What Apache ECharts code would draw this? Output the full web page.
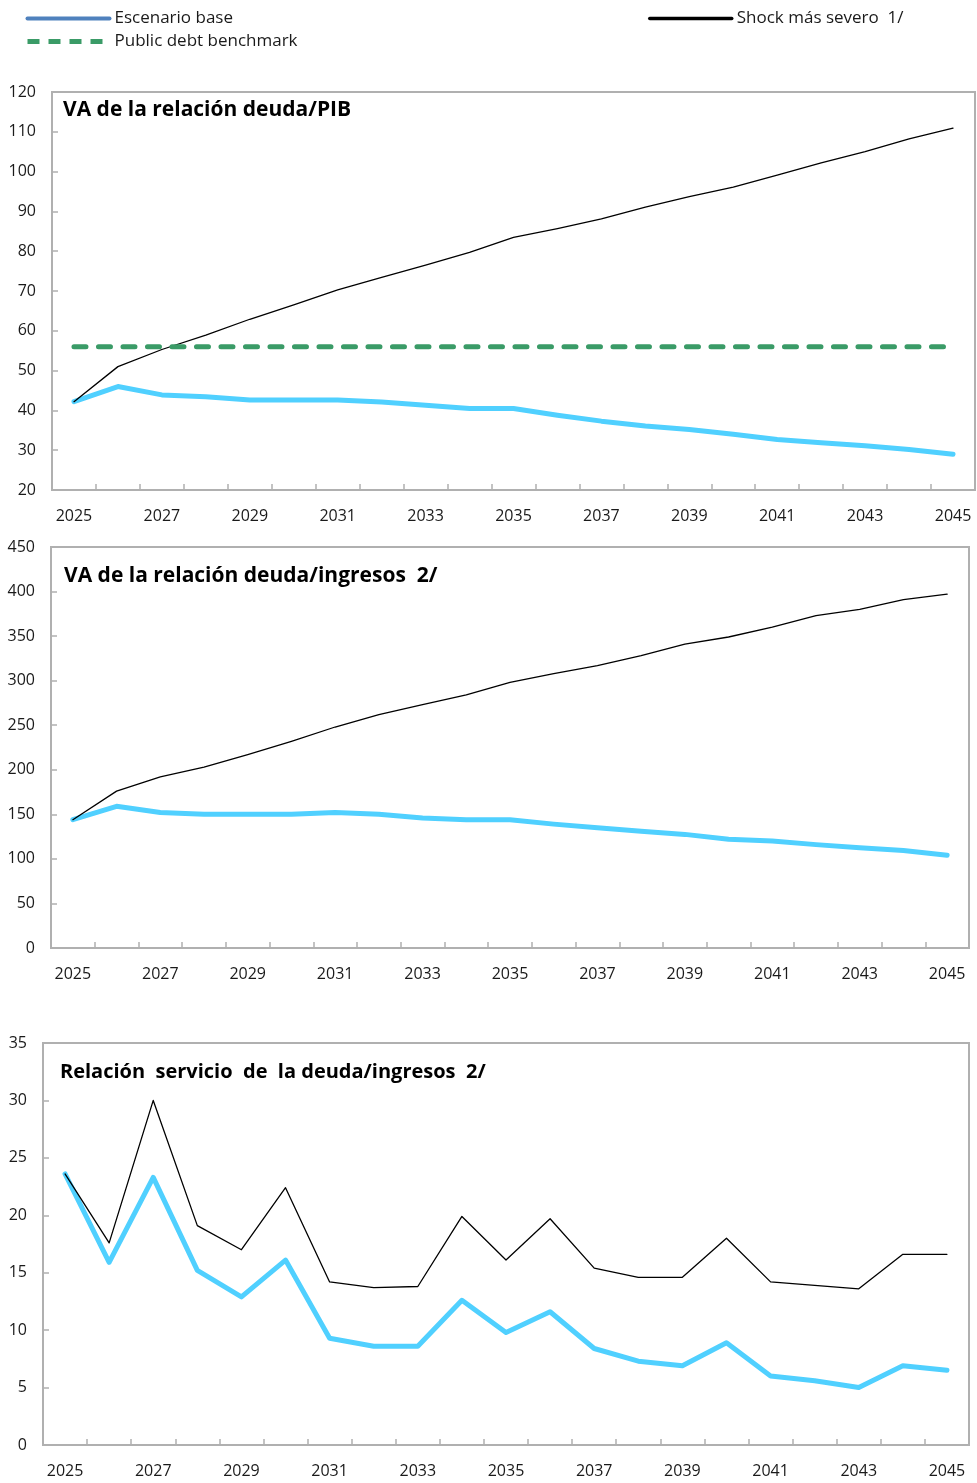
<!DOCTYPE html>
<html>
<head>
<meta charset="utf-8">
<script src="https://cdn.jsdelivr.net/npm/echarts@6/dist/echarts.min.js"></script>
<style>
  html, body { margin: 0; padding: 0; background: #fff; }
  #main { width: 977px; height: 1483px; }
</style>
</head>
<body>
<div id="main"></div>
<script>
// 年份
const years = ['2025', '2026', '2027', '2028', '2029', '2030', '2031', '2032', '2033', '2034', '2035',
  '2036', '2037', '2038', '2039', '2040', '2041', '2042', '2043', '2044', '2045']

// VA de la relación deuda/PIB
const debtGdpBase = [42.2, 46.0, 43.9, 43.4, 42.6, 42.6, 42.6, 42.1, 41.3, 40.5, 40.5,
  38.8, 37.3, 36.1, 35.2, 34.0, 32.7, 31.9, 31.1, 30.2, 29.0]
const debtGdpShock = [42.2, 51.0, 55.3, 58.9, 62.9, 66.5, 70.3, 73.4, 76.5, 79.7, 83.5,
  85.7, 88.1, 91.1, 93.7, 96.1, 99.1, 102.2, 105.0, 108.2, 110.9]
const debtGdpBenchmark = [56, 56, 56, 56, 56, 56, 56, 56, 56, 56, 56,
  56, 56, 56, 56, 56, 56, 56, 56, 56, 56]

// VA de la relación deuda/ingresos
const debtRevBase = [144, 159, 152, 150, 150, 150, 152, 150, 146, 144, 144,
  139, 135, 131, 127.5, 122, 120, 116, 112.5, 109.5, 104]
const debtRevShock = [144, 176, 192, 203, 217, 232, 248, 262, 273, 284, 298,
  308, 317, 328, 341, 349, 360, 373, 380, 391, 397]

// Relación servicio de la deuda/ingresos
const serviceRevBase = [23.6, 15.9, 23.3, 15.2, 12.9, 16.1, 9.3, 8.6, 8.6, 12.6, 9.8,
  11.6, 8.4, 7.3, 6.9, 8.9, 6.0, 5.6, 5.0, 6.9, 6.5]
const serviceRevShock = [23.6, 17.6, 30.0, 19.1, 17.0, 22.4, 14.2, 13.7, 13.8, 19.9, 16.1,
  19.7, 15.4, 14.6, 14.6, 18.0, 14.2, 13.9, 13.6, 16.6, 16.6]

const BASE = 'Escenario base'
const BENCH = 'Public debt benchmark'
const SHOCK = 'Shock más severo  1/'

const font = '"Open Sans", "Noto Sans", sans-serif'
const gray = '#B0B0B0'
const textColor = '#1a1a1a'

// 三个面板
const panels = [
  { title: 'VA de la relación deuda/PIB', left: 52, right: 2, top: 92, height: 398, min: 20, max: 120, interval: 10, labelX: 63, titleY: 110, titleSize: 21 },
  { title: 'VA de la relación deuda/ingresos  2/', left: 51, right: 8, top: 547, height: 401, min: 0, max: 450, interval: 50, labelX: 64, titleY: 576, titleSize: 21 },
  { title: 'Relación  servicio  de  la deuda/ingresos  2/', left: 43, right: 8, top: 1043, height: 402, min: 0, max: 35, interval: 5, labelX: 60, titleY: 1072, titleSize: 20 }
]

function lineSeries (name, idx, data, color, width, extra) {
  return Object.assign({
    name,
    type: 'line',
    xAxisIndex: idx,
    yAxisIndex: idx,
    symbol: 'none',
    smooth: false,
    animation: false,
    lineStyle: { color, width, cap: 'round', join: 'round' },
    itemStyle: { color },
    data
  }, extra || {})
}

const grid = []
const xAxis = []
const yAxis = []
const title = []
panels.forEach((p, i) => {
  grid.push({
    left: p.left,
    right: p.right,
    top: p.top,
    height: p.height,
    show: true,
    borderColor: gray,
    borderWidth: 2,
    backgroundColor: 'transparent'
  })
  xAxis.push({
    type: 'category',
    gridIndex: i,
    data: years,
    boundaryGap: true,
    axisLine: { show: true, lineStyle: { color: gray, width: 2 } },
    axisTick: { show: true, inside: true, length: 6, interval: 0, alignWithLabel: false, lineStyle: { color: gray, width: 1.5 } },
    axisLabel: { interval: 1, margin: 18, fontSize: 16, fontFamily: font, color: textColor },
    splitLine: { show: false }
  })
  yAxis.push({
    type: 'value',
    gridIndex: i,
    min: p.min,
    max: p.max,
    interval: p.interval,
    axisLine: { show: true, lineStyle: { color: gray, width: 2 } },
    axisTick: { show: true, inside: true, length: 6, lineStyle: { color: gray, width: 1.5 } },
    axisLabel: { margin: 16, fontSize: 16, fontFamily: font, color: textColor },
    splitLine: { show: false }
  })
  title.push({
    text: p.title,
    left: p.labelX,
    top: p.titleY - 10,
    padding: 0,
    textStyle: { fontSize: p.titleSize, fontWeight: 'bold', fontFamily: font, color: '#000' }
  })
})

const blue = '#50D0FF'
const green = '#3A9B67'

const series = [
  lineSeries(BASE, 0, debtGdpBase, blue, 5),
  lineSeries(SHOCK, 0, debtGdpShock, '#000', 1.3),
  lineSeries(BENCH, 0, debtGdpBenchmark, green, 5, {
    lineStyle: { color: green, width: 5, type: [12, 12.5], cap: 'round' }
  }),
  lineSeries(BASE, 1, debtRevBase, blue, 5),
  lineSeries(SHOCK, 1, debtRevShock, '#000', 1.3),
  lineSeries(BASE, 2, serviceRevBase, blue, 5),
  lineSeries(SHOCK, 2, serviceRevShock, '#000', 1.3)
]

// legend 只显示线，不显示圆点
const noDot = { color: 'rgba(0,0,0,0)', borderWidth: 0, opacity: 0 }
const legendText = { fontSize: 17, fontFamily: font, color: textColor }
const option = {
  backgroundColor: '#fff',
  animation: false,
  title,
  legend: [{
    left: 25,
    top: 10,
    orient: 'vertical',
    padding: 0,
    itemGap: 6,
    itemWidth: 82,
    itemHeight: 14,
    textStyle: legendText,
    data: [
      { name: BASE, itemStyle: noDot, lineStyle: { color: '#4F81BD', width: 4, type: 'solid' } },
      { name: BENCH, itemStyle: noDot, lineStyle: { color: green, width: 5, type: [12, 9], cap: 'butt' } }
    ]
  }, {
    left: 648,
    top: 10,
    padding: 0,
    itemWidth: 82,
    itemHeight: 14,
    textStyle: legendText,
    data: [
      { name: SHOCK, itemStyle: noDot, lineStyle: { color: '#000', width: 3.5 } }
    ]
  }],
  grid,
  xAxis,
  yAxis,
  series
}

const chart = echarts.init(document.getElementById('main'))
chart.setOption(option, true)
</script>
</body>
</html>
